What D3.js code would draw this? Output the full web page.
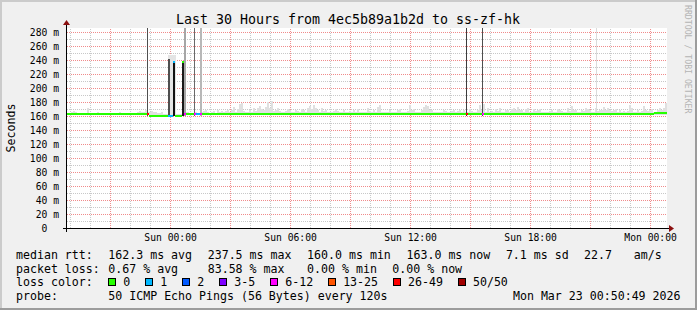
<!DOCTYPE html>
<html>
<head>
<meta charset="utf-8">
<script src="https://cdn.jsdelivr.net/npm/d3@7"></script>
<style>
  body { margin: 0; background: #f0f0f0; }
  svg { display: block; font-family: "DejaVu Sans Mono", monospace; }
</style>
</head>
<body>
<svg id="chart" width="697" height="310"></svg>
<script>
// graph window: last 30 hours ending at the graph timestamp
const endTime = "2026-03-23T00:50:49Z";
const windowHours = 30;
const yTop = 285.71;

const titleText = "Last 30 Hours from 4ec5b89a1b2d to ss-zf-hk";
const probeText = "50 ICMP Echo Pings (56 Bytes) every 120s";

// axis labels
const yTicks = [0, 20, 40, 60, 80, 100, 120, 140, 160, 180, 200, 220, 240, 260, 280];
const xLabelTimes = ["2026-03-22T00:00:00Z", "2026-03-22T06:00:00Z", "2026-03-22T12:00:00Z",
                     "2026-03-22T18:00:00Z", "2026-03-23T00:00:00Z"];

// median rtt as steps: start (minutes into the window), rtt in ms, lost pings of 50
const medStart = [0, 239, 247, 303, 318, 324, 345, 351, 357, 381, 387, 399, 405, 1197, 1203, 1245, 1251, 1761];
const medRtt   = [162.5, 162.5, 160.5, 160.5, 237.5, 160.5, 237.5, 162.5, 162.5, 162.5, 162.5, 162.5, 162.5,
                  162.5, 162.5, 162.5, 162.5, 164];
const medLoss  = [0, 30, 0, 1, 1, 0, 0, 8, 0, 8, 1, 8, 0, 30, 0, 8, 0, 0];

// smoke: highest rtt (ms) in each 6 minute bin
const smokeBinMinutes = 6;
const smokeMax = [
  163,163,166,167,166,163,163,163,163,163,172,164,163,163,163,165,163,163,163,163,
  163,163,164,163,163,163,166,163,163,163,163,163,163,164,163,166,167,165,166,168,
  165,166,167,166,165,164,164,165,163,163,163,163,163,163,163,163,163,163,163,166,
  165,163,163,164,166,163,164,165,167,169,165,164,166,167,164,168,166,167,165,167,
  168,165,169,173,166,170,177,179,167,166,165,168,166,171,167,172,174,170,168,173,
  180,172,181,167,169,172,167,166,165,167,170,168,166,165,169,167,166,170,168,166,
  172,174,170,176,171,168,166,171,167,169,166,165,165,167,170,167,165,166,168,166,
  165,167,166,169,165,170,166,165,165,166,171,167,165,169,166,173,175,166,165,166,
  165,168,166,166,165,168,170,166,166,165,167,176,168,170,166,165,166,168,173,176,
  174,168,168,166,165,165,166,165,168,167,166,165,167,169,166,167,168,165,169,165,
  165,170,167,165,166,168,175,168,177,166,172,166,167,165,170,167,172,166,166,168,
  168,166,170,171,169,173,169,168,166,170,171,165,166,170,167,168,170,166,165,165,
  166,167,168,166,166,170,168,167,165,166,172,167,174,169,168,166,165,168,167,171,
  170,168,166,166,172,167,169,168,173,169,171,169,167,168,170,166,168,166,167,165,
  167,176,172,166,166,168,165,167,174,169,167,168,170,166,166,168,172,169,171,179
];

// outlier columns: start/end minute, top rtt (ms), pings in that spread
const spikeStart = [303, 1586, 241, 304, 317, 344, 351, 380, 398, 1197, 1244];
const spikeEnd   = [327, 1589, 244, 310, 324, 351, 357, 385, 405, 1201, 1248];
const spikeTop   = [247, 400, 400, 242, 238, 238, 400, 400, 400, 400, 400];
const spikePings = [1, 2, 18, 18, 25, 24, 8, 15, 6, 20, 18];

// loss colours
const lossLabels = ["0", "1", "2", "3-5", "6-12", "13-25", "26-49", "50/50"];
const lossUpper  = [0, 1, 2, 5, 12, 25, 49, 50];
const lossColors = ["#26ff00", "#00b8ff", "#0059ff", "#7e00ff", "#ff00ff", "#ff5500", "#ff0000", "#a10000"];

// legend statistics
const rttStats  = [162.3, 237.5, 160.0, 163.0];
const rttSd = 7.1;
const rttAms = 22.7;
const lossStats = [0.67, 83.58, 0.00, 0.00];

const svg = d3.select("#chart");
const W = 697, H = 310;
const plot = { left: 67, right: 667, top: 28, bottom: 228 };

const t1 = d3.utcParse("%Y-%m-%dT%H:%M:%SZ")(endTime);
const t0 = d3.utcHour.offset(t1, -windowHours);
const atMinute = mm => d3.utcSecond.offset(t0, Math.round(mm * 60));

const x = d3.scaleUtc().domain([t0, t1]).range([plot.left, plot.right]);
const y = d3.scaleLinear().domain([0, yTop]).range([plot.bottom, plot.top]);
const lossColor = l => lossColors[lossUpper.findIndex(u => l <= u)];
const smokeShade = d3.scaleLinear().domain([1, 25]).range(["#e4e4e4", "#111111"]);

// background and frame
svg.append("rect").attr("width", W).attr("height", H).attr("fill", "#f0f0f0");
svg.append("path").attr("d", `M1,${H} V1 H${W}`).attr("stroke", "#cbcbcb").attr("stroke-width", 2).attr("fill", "none");
svg.append("path").attr("d", `M0,${H - 1} H${W - 1} V0`).attr("stroke", "#9c9c9c").attr("stroke-width", 2).attr("fill", "none");
svg.append("rect")
  .attr("x", plot.left).attr("y", plot.top)
  .attr("width", plot.right - plot.left).attr("height", plot.bottom - plot.top)
  .attr("fill", "#ffffff");

// grid
const hours = d3.utcHour.range(d3.utcHour.ceil(t0), t1);
const gridX = (vals, color) => svg.append("g")
  .attr("transform", `translate(0,${plot.bottom})`)
  .call(d3.axisBottom(x).tickValues(vals).tickSize(-(plot.bottom - plot.top)).tickFormat(""))
  .call(g => g.select(".domain").remove())
  .selectAll("line").attr("stroke", color).attr("stroke-dasharray", "1,1");
const gridY = (vals, color) => svg.append("g")
  .attr("transform", `translate(${plot.left},0)`)
  .call(d3.axisLeft(y).tickValues(vals).tickSize(-(plot.right - plot.left)).tickFormat(""))
  .call(g => g.select(".domain").remove())
  .selectAll("line").attr("stroke", color).attr("stroke-dasharray", "1,1");

gridX(hours.filter(h => h.getUTCHours() % 3 !== 0), "#c8c8c8");
gridY(d3.range(10, yTop, 20), "#c8c8c8");
gridX(hours.filter(h => h.getUTCHours() % 3 === 0), "#f08a8a");
gridY(yTicks.filter(v => v > 0), "#f08a8a");

svg.append("clipPath").attr("id", "plotclip").append("rect")
  .attr("x", plot.left).attr("y", plot.top)
  .attr("width", plot.right - plot.left).attr("height", plot.bottom - plot.top);

const data = svg.append("g").attr("clip-path", "url(#plotclip)");

// smoke
data.append("g").selectAll("rect")
  .data(smokeMax)
  .join("rect")
  .attr("x", (d, i) => x(atMinute(i * smokeBinMinutes)))
  .attr("width", (d, i) => x(atMinute((i + 1) * smokeBinMinutes)) - x(atMinute(i * smokeBinMinutes)))
  .attr("y", d => y(d))
  .attr("height", d => Math.max(0, y(161) - y(d)))
  .attr("fill", "#e0e0e0")
  .attr("shape-rendering", "crispEdges");

// outlier columns
data.append("g").selectAll("rect")
  .data(spikeStart.map((s, i) => ({ s, e: spikeEnd[i], top: spikeTop[i], n: spikePings[i] })))
  .join("rect")
  .attr("x", d => x(atMinute(d.s)))
  .attr("width", d => x(atMinute(d.e)) - x(atMinute(d.s)))
  .attr("y", d => y(Math.min(d.top, yTop)))
  .attr("height", d => y(160) - y(Math.min(d.top, yTop)))
  .attr("fill", d => smokeShade(d.n))
  .attr("shape-rendering", "crispEdges");

// median line coloured by loss
const medSegs = medStart.map((s, i) => ({
  s, e: i + 1 < medStart.length ? medStart[i + 1] : windowHours * 60,
  v: medRtt[i], loss: medLoss[i]
}));
data.append("g").selectAll("line")
  .data(medSegs)
  .join("line")
  .attr("x1", d => x(atMinute(d.s)))
  .attr("x2", d => x(atMinute(d.e)))
  .attr("y1", d => y(d.v))
  .attr("y2", d => y(d.v))
  .attr("stroke", d => lossColor(d.loss))
  .attr("stroke-width", 2)
  .attr("shape-rendering", "crispEdges");

// axes lines and arrows
svg.append("line").attr("x1", plot.left - 4).attr("x2", plot.right + 3)
  .attr("y1", plot.bottom + 0.5).attr("y2", plot.bottom + 0.5).attr("stroke", "#000");
svg.append("line").attr("x1", plot.left - 0.5).attr("x2", plot.left - 0.5)
  .attr("y1", plot.bottom + 4).attr("y2", plot.top - 4).attr("stroke", "#000");
svg.append("path").attr("d", `M${plot.right + 7},${plot.bottom + 0.5} l-5,-3.5 v7 z`).attr("fill", "#8b1010");
svg.append("path").attr("d", `M${plot.left - 0.5},${plot.top - 8} l-3.5,5 h7 z`).attr("fill", "#8b1010");

// y labels
svg.append("g")
  .attr("transform", `translate(${plot.left},0)`)
  .call(d3.axisLeft(y).tickValues(yTicks).tickSize(0).tickPadding(8)
    .tickFormat(v => v === 0 ? "0  " : v + " m"))
  .call(g => g.select(".domain").remove())
  .selectAll("text")
  .attr("xml:space", "preserve")
  .style("white-space", "pre")
  .attr("dy", "0.37em")
  .attr("fill", "#000")
  .style("font-family", '"DejaVu Sans Mono", monospace')
  .style("font-size", "9.7px");

// x labels
svg.append("g")
  .attr("transform", `translate(0,${plot.bottom})`)
  .call(d3.axisBottom(x).tickValues(xLabelTimes.map(d => new Date(d))).tickSize(0).tickPadding(6)
    .tickFormat(d3.utcFormat("%a %H:%M")))
  .call(g => g.select(".domain").remove())
  .selectAll("text")
  .attr("fill", "#000")
  .style("font-family", '"DejaVu Sans Mono", monospace')
  .style("font-size", "9.7px");

// title, unit label, watermark
svg.append("text").attr("x", 348).attr("y", 24).attr("text-anchor", "middle")
  .style("font-size", "13.3px").text(titleText);
svg.append("text").attr("transform", "translate(15,128) rotate(-90)").attr("text-anchor", "middle")
  .style("font-size", "11.6px").text("Seconds");
svg.append("text").attr("transform", "translate(685,5) rotate(90)")
  .style("font-size", "8.2px").attr("fill", "#b4b4b4").text("RRDTOOL / TOBI OETIKER");

// legend
const col = c => 16 + c * 7.1;
const rowY = [259, 272.6, 286.2, 299.8];
const f1 = d3.format(".1f"), f2 = d3.format(".2f");
const rows = [
  [[0, "median rtt:"], [13, `${f1(rttStats[0])} ms avg`], [27, `${f1(rttStats[1])} ms max`],
   [41, `${f1(rttStats[2])} ms min`], [55, `${f1(rttStats[3])} ms now`], [69, `${f1(rttSd)} ms sd`],
   [80, f1(rttAms)], [87, "am/s"]],
  [[0, "packet loss:"], [13, `${f2(lossStats[0])} % avg`], [27, `${f2(lossStats[1])} % max`],
   [41, `${f2(lossStats[2])} % min`], [53, `${f2(lossStats[3])} % now`]],
  [[0, "loss color:"]],
  [[0, "probe:"], [13, probeText]]
];
rows.forEach((r, ri) => {
  svg.append("g").selectAll("text")
    .data(r)
    .join("text")
    .attr("x", d => col(d[0]))
    .attr("y", rowY[ri])
    .style("font-size", "11.6px")
    .attr("xml:space", "preserve")
    .text(d => d[1]);
});

let lx = col(13);
lossLabels.forEach((lab, i) => {
  svg.append("rect")
    .attr("x", Math.round(lx) + 0.5).attr("y", 278.5).attr("width", 7).attr("height", 7)
    .attr("fill", lossColors[i]).attr("stroke", "#000");
  const t = svg.append("text").attr("x", lx + 15).attr("y", rowY[2])
    .style("font-size", "11.6px").text(lab);
  lx = lx + 15 + t.node().getComputedTextLength() + 15;
});

svg.append("text").attr("x", 680.5).attr("y", rowY[3]).attr("text-anchor", "end")
  .style("font-size", "11.6px")
  .text(d3.utcFormat("%a %b %d %H:%M:%S %Y")(t1));
</script>
</body>
</html>
